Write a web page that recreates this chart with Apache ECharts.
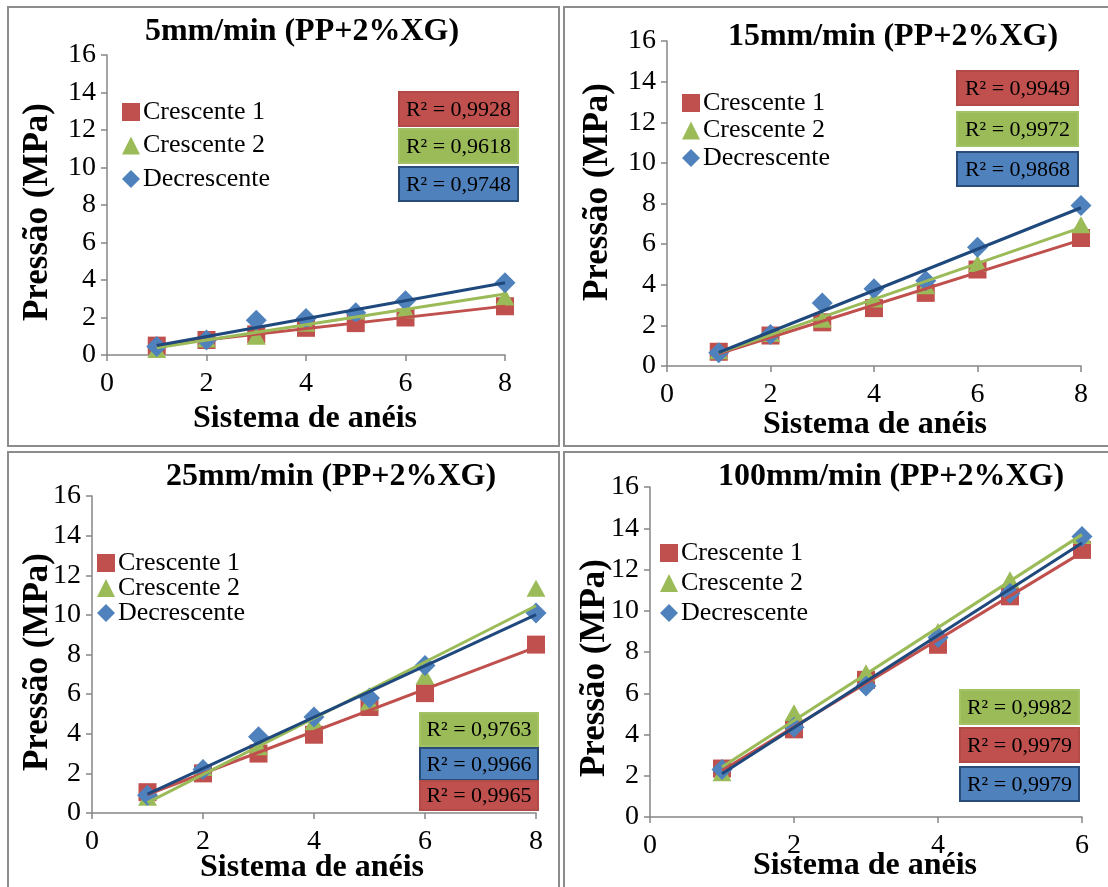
<!DOCTYPE html>
<html><head><meta charset="utf-8">
<script src="https://cdn.jsdelivr.net/npm/echarts@6/dist/echarts.min.js"></script>
<style>
body{margin:0;background:#fff;width:1108px;height:887px;position:relative;overflow:hidden}
.p{position:absolute}
.b{position:absolute;border:2px solid #8c8c8c;box-sizing:border-box;pointer-events:none}
</style></head><body>
<div id="c1" class="p" style="left:7px;top:6px;width:553px;height:441px"></div>
<div id="c2" class="p" style="left:563px;top:6px;width:547px;height:441px"></div>
<div id="c3" class="p" style="left:7px;top:451px;width:553px;height:439px"></div>
<div id="c4" class="p" style="left:563px;top:451px;width:547px;height:439px"></div>
<div class="b" style="left:7px;top:6px;width:553px;height:441px"></div>
<div class="b" style="left:563px;top:6px;width:547px;height:441px"></div>
<div class="b" style="left:7px;top:451px;width:553px;height:439px"></div>
<div class="b" style="left:563px;top:451px;width:547px;height:439px"></div>
<script>
// ---- data ----
const seriesNames = ['Crescente 1', 'Crescente 2', 'Decrescente'];
const titles = ['5mm/min (PP+2%XG)', '15mm/min (PP+2%XG)', '25mm/min (PP+2%XG)', '100mm/min (PP+2%XG)'];
const xName = 'Sistema de anéis';
const yName = 'Pressão (MPa)';

const x5 = [1, 2, 3, 4, 5, 6, 8];
const c1_5 = [0.5, 0.8, 1.1, 1.45, 1.7, 2.0, 2.6];
const c2_5 = [0.3, 0.85, 1.0, 1.7, 2.35, 2.4, 3.1];
const dec_5 = [0.45, 0.8, 1.85, 1.95, 2.25, 2.9, 3.85];
// R² per series: Crescente 1, Crescente 2, Decrescente
const r2_5 = ['R² = 0,9928', 'R² = 0,9618', 'R² = 0,9748'];

const x15 = [1, 2, 3, 4, 5, 6, 8];
const c1_15 = [0.7, 1.5, 2.15, 2.85, 3.6, 4.75, 6.3];
const c2_15 = [0.75, 1.6, 2.3, 3.3, 3.95, 5.05, 6.95];
const dec_15 = [0.65, 1.55, 3.1, 3.8, 4.2, 5.85, 7.9];
const r2_15 = ['R² = 0,9949', 'R² = 0,9972', 'R² = 0,9868'];

const x25 = [1, 2, 3, 4, 5, 6, 8];
const c1_25 = [1.05, 2.0, 3.0, 3.95, 5.35, 6.05, 8.5];
const c2_25 = [0.8, 2.3, 3.35, 4.6, 5.6, 6.9, 11.35];
const dec_25 = [0.9, 2.2, 3.85, 4.85, 5.8, 7.45, 10.1];
const r2_25 = ['R² = 0,9965', 'R² = 0,9763', 'R² = 0,9966'];

const x100 = [1, 2, 3, 4, 5, 6];
const c1_100 = [2.35, 4.25, 6.65, 8.35, 10.7, 12.95];
const c2_100 = [2.15, 5.05, 7.0, 9.0, 11.5, 13.65];
const dec_100 = [2.3, 4.35, 6.35, 8.7, 10.85, 13.6];
const r2_100 = ['R² = 0,9979', 'R² = 0,9982', 'R² = 0,9979'];

const xTicks8 = [0, 2, 4, 6, 8];
const xTicks6 = [0, 2, 4, 6];
const yTicks = [0, 2, 4, 6, 8, 10, 12, 14, 16];

// ---- styles ----
const markerColors = ['#C0504D', '#9BBB59', '#4F81BD'];
const trendColors = ['#C0504D', '#9BBB59', '#1F497D'];
const boxFill = {r: '#C0504D', g: '#9BBB59', b: '#4F81BD'};
const boxStroke = {r: '#B24A47', g: '#A3C266', b: '#2A4C78'};
const symbols = ['rect', 'triangle', 'diamond'];
const symSizes = [18, [19, 17], 21];
const SERIF = '"Liberation Serif","Times New Roman",serif';

function fit(xs, ys) {
  const n = xs.length;
  const mx = xs.reduce((a, b) => a + b, 0) / n;
  const my = ys.reduce((a, b) => a + b, 0) / n;
  let sxy = 0, sxx = 0;
  for (let i = 0; i < n; i++) { sxy += (xs[i] - mx) * (ys[i] - my); sxx += (xs[i] - mx) ** 2; }
  const b = sxy / sxx, a = my - b * mx;
  const x0 = Math.min(...xs), x1 = Math.max(...xs);
  return [[x0, a + b * x0], [x1, a + b * x1]];
}

const panels = [
  {el: 'c1', xs: x5, ys: [c1_5, c2_5, dec_5], r2: r2_5, boxOrder: ['r', 'g', 'b'], xTicks: xTicks8,
   grid: {left: 100, top: 49, width: 398, height: 300},
   title: [295, 26], yn: [31, 206], xn: [298, 413],
   legend: {left: 115, top: 93, gap: 7.5},
   box: {x: 392, y: [86, 123, 161], w: 119, h: [34, 34, 34]}},
  {el: 'c2', xs: x15, ys: [c1_15, c2_15, dec_15], r2: r2_15, boxOrder: ['r', 'g', 'b'], xTicks: xTicks8,
   grid: {left: 104, top: 35, width: 414, height: 325},
   title: [330, 31], yn: [35, 186], xn: [312, 419],
   legend: {left: 119, top: 84, gap: 1.5},
   box: {x: 394, y: [65, 106, 146], w: 121, h: [34, 34, 34]}},
  {el: 'c3', xs: x25, ys: [c1_25, c2_25, dec_25], r2: r2_25, boxOrder: ['g', 'b', 'r'], xTicks: xTicks8,
   grid: {left: 85, top: 45, width: 444, height: 317},
   title: [324, 26], yn: [31, 211], xn: [305, 417],
   legend: {left: 90, top: 99, gap: -1},
   box: {x: 413, y: [262, 297, 330], w: 118, h: [33, 32, 29]}},
  {el: 'c4', xs: x100, ys: [c1_100, c2_100, dec_100], r2: r2_100, boxOrder: ['g', 'r', 'b'], xTicks: xTicks6,
   grid: {left: 87, top: 36, width: 432, height: 330},
   title: [328, 26], yn: [32, 217], xn: [302, 415],
   legend: {left: 97, top: 89, gap: 4},
   box: {x: 397, y: [239, 277, 316], w: 119, h: [34, 34, 34]}}
];

panels.forEach((p, pi) => {
  const chart = echarts.init(document.getElementById(p.el), null, {renderer: 'canvas'});
  const series = [];
  p.ys.forEach((ys, i) => {
    series.push({
      name: seriesNames[i], type: 'scatter', symbol: symbols[i], symbolSize: symSizes[i],
      itemStyle: {color: markerColors[i], opacity: 1}, z: 2 + i,
      data: p.xs.map((x, k) => [x, ys[k]])
    });
  });
  p.ys.forEach((ys, i) => {
    series.push({
      name: 'Linear (' + seriesNames[i] + ')', type: 'line', symbol: 'none', silent: true,
      lineStyle: {color: trendColors[i], width: 3}, z: 10 + i,
      data: fit(p.xs, ys)
    });
  });
  const graphics = [];
  graphics.push({type: 'text', x: p.title[0], y: p.title[1],
    style: {text: titles[pi], font: 'bold 32px ' + SERIF, fill: '#000', textAlign: 'center', textVerticalAlign: 'middle'}});
  graphics.push({type: 'text', x: p.yn[0], y: p.yn[1], rotation: Math.PI / 2,
    style: {text: yName, font: 'bold 35px ' + SERIF, fill: '#000', textAlign: 'center', textVerticalAlign: 'middle'}});
  graphics.push({type: 'text', x: p.xn[0], y: p.xn[1],
    style: {text: xName, font: 'bold 32px ' + SERIF, fill: '#000', textAlign: 'center', textVerticalAlign: 'middle'}});
  p.boxOrder.forEach((c, j) => {
    const idx = {r: 0, g: 1, b: 2}[c];
    graphics.push({type: 'rect', z: 50,
      shape: {x: p.box.x, y: p.box.y[j], width: p.box.w, height: p.box.h[j]},
      style: {fill: boxFill[c], stroke: boxStroke[c], lineWidth: 2}});
    graphics.push({type: 'text', z: 51, x: p.box.x + p.box.w / 2, y: p.box.y[j] + p.box.h[j] / 2 + 1,
      style: {text: p.r2[idx], font: '22px ' + SERIF, fill: '#000', textAlign: 'center', textVerticalAlign: 'middle'}});
  });
  const maxX = p.xTicks[p.xTicks.length - 1];
  chart.setOption({
    animation: false,
    backgroundColor: 'transparent',
    grid: p.grid,
    legend: {
      orient: 'vertical', left: p.legend.left, top: p.legend.top, itemGap: p.legend.gap,
      itemWidth: 18, itemHeight: 18, padding: 0, selectedMode: false,
      textStyle: {fontFamily: 'Liberation Serif', fontSize: 26, color: '#000', padding: [0, 0, 0, -2]},
      data: seriesNames.map((n, i) => ({name: n, icon: symbols[i]}))
    },
    xAxis: {
      type: 'value', min: p.xTicks[0], max: maxX, interval: 2,
      axisLine: {lineStyle: {color: '#868686', width: 1.5}},
      axisTick: {show: true, length: 6, lineStyle: {color: '#868686', width: 1.5}},
      splitLine: {show: false},
      axisLabel: {fontFamily: 'Liberation Serif', fontSize: 28, color: '#000', margin: 15}
    },
    yAxis: {
      type: 'value', min: yTicks[0], max: yTicks[yTicks.length - 1], interval: 2,
      axisLine: {show: true, lineStyle: {color: '#868686', width: 1.5}},
      axisTick: {show: true, length: 6, lineStyle: {color: '#868686', width: 1.5}},
      splitLine: {show: false},
      axisLabel: {fontFamily: 'Liberation Serif', fontSize: 28, color: '#000', margin: 11}
    },
    graphic: graphics,
    series: series
  });
});
</script>
</body></html>
